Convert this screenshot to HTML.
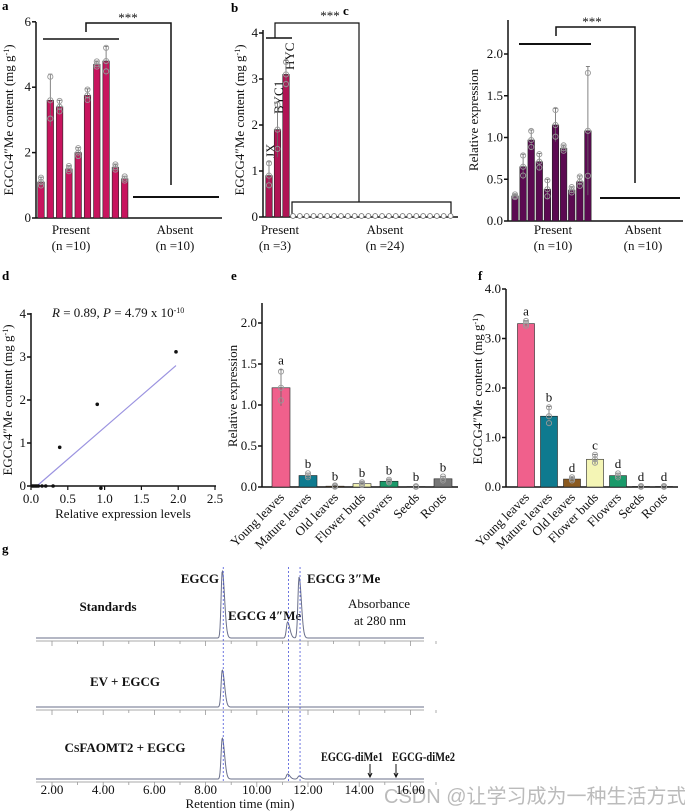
<!DOCTYPE html>
<html><head><meta charset="utf-8"><style>
html,body{margin:0;padding:0;background:#fff;}
svg{display:block;font-family:"Liberation Serif","Noto Serif CJK SC",serif;}
.t{font-size:13px;fill:#111;}
.pl{font-size:13px;font-weight:bold;fill:#000;}
.b{font-weight:bold;}
</style></head><body>
<svg id="fig" width="685" height="812" viewBox="0 0 685 812" xmlns="http://www.w3.org/2000/svg">
<text class="pl" x="2" y="10">a</text>
<text class="pl" x="231" y="12">b</text>
<text class="pl" x="343" y="15">c</text>
<text class="pl" x="2" y="280">d</text>
<text class="pl" x="231" y="280">e</text>
<text class="pl" x="478" y="280">f</text>
<text class="pl" x="2" y="553">g</text>

<g stroke="#111" fill="none">
<line x1="43" y1="39" x2="119" y2="39" stroke-width="1.5"/>
<polyline points="86,32 86,23 171,23 171,185" stroke-width="1.5"/>
<line x1="133" y1="197" x2="219" y2="197" stroke-width="2"/>
</g>
<text class="t" x="128" y="22" text-anchor="middle">***</text>
<text class="t" x="71" y="234" text-anchor="middle">Present</text>
<text class="t" x="71" y="250" text-anchor="middle">(n =10)</text>
<text class="t" x="175" y="234" text-anchor="middle">Absent</text>
<text class="t" x="175" y="250" text-anchor="middle">(n =10)</text>
<text class="t" transform="translate(13,120) rotate(-90)" text-anchor="middle">EGCG4″Me content (mg g<tspan dy="-4" font-size="8">-1</tspan><tspan dy="4">)</tspan></text>

<g stroke="#111" fill="none">
<line x1="266" y1="38" x2="292" y2="38" stroke-width="1.5"/>
<polyline points="275,38 275,23 359,23 359,202" stroke-width="1.2"/>
<polyline points="292,214 292,202 451,202 451,214" stroke-width="1.2"/>
</g>
<text class="t" x="330" y="20" text-anchor="middle">***</text>
<text class="t" transform="translate(275,158) rotate(-90)" font-size="12">JX</text>
<text class="t" transform="translate(283,114) rotate(-90)" font-size="12">BYC1</text>
<text class="t" transform="translate(294,70) rotate(-90)" font-size="12">HYC</text>
<text class="t" x="280" y="234" text-anchor="middle">Present</text>
<text class="t" x="275" y="250" text-anchor="middle">(n =3)</text>
<text class="t" x="385" y="234" text-anchor="middle">Absent</text>
<text class="t" x="385" y="250" text-anchor="middle">(n =24)</text>
<text class="t" transform="translate(244,120) rotate(-90)" text-anchor="middle">EGCG4″Me content (mg g<tspan dy="-4" font-size="8">-1</tspan><tspan dy="4">)</tspan></text>

<g stroke="#111" fill="none">
<line x1="519" y1="44" x2="591" y2="44" stroke-width="2"/>
<polyline points="556,36 556,27 635,27 635,183" stroke-width="1.5"/>
<line x1="600" y1="198" x2="680" y2="198" stroke-width="2"/>
</g>
<text class="t" x="592" y="26" text-anchor="middle">***</text>
<text class="t" x="553" y="234" text-anchor="middle">Present</text>
<text class="t" x="553" y="250" text-anchor="middle">(n =10)</text>
<text class="t" x="643" y="234" text-anchor="middle">Absent</text>
<text class="t" x="643" y="250" text-anchor="middle">(n =10)</text>
<text class="t" transform="translate(478,120) rotate(-90)" text-anchor="middle">Relative expression</text>

<text class="t" x="52" y="317"><tspan font-style="italic">R</tspan> = 0.89, <tspan font-style="italic">P</tspan> = 4.79 x 10<tspan dy="-4" font-size="8">-10</tspan></text>
<text class="t" x="123" y="518" text-anchor="middle">Relative expression levels</text>
<text class="t" transform="translate(12,400) rotate(-90)" text-anchor="middle">EGCG4″Me content (mg g<tspan dy="-4" font-size="8">-1</tspan><tspan dy="4">)</tspan></text>

<text class="t" transform="translate(237,396) rotate(-90)" text-anchor="middle">Relative expression</text>
<text class="t" transform="translate(482,389) rotate(-90)" text-anchor="middle">EGCG4″Me content (mg g<tspan dy="-4" font-size="8">-1</tspan><tspan dy="4">)</tspan></text>

<text class="t b" x="108" y="611" text-anchor="middle" font-size="14">Standards</text>
<text class="t b" x="125" y="686" text-anchor="middle" font-size="14">EV + EGCG</text>
<text class="t b" x="125" y="752" text-anchor="middle" font-size="14">C<tspan font-size="10">S</tspan>FAOMT2 + EGCG</text>
<text class="t b" x="219" y="583" text-anchor="end" font-size="10.5">EGCG</text>
<text class="t b" x="228" y="620" font-size="10.5">EGCG 4″Me</text>
<text class="t b" x="307" y="583" font-size="10.5">EGCG 3″Me</text>
<text class="t" x="379" y="608" text-anchor="middle" font-size="13">Absorbance</text>
<text class="t" x="380" y="625" text-anchor="middle" font-size="13">at 280 nm</text>
<text class="t b" x="321" y="761" font-size="9.5" textLength="62" lengthAdjust="spacingAndGlyphs">EGCG-diMe1</text>
<text class="t b" x="392" y="761" font-size="9.5" textLength="63" lengthAdjust="spacingAndGlyphs">EGCG-diMe2</text>
<g stroke="#111">
<line x1="370" y1="764" x2="370" y2="777"/><polyline points="368,773 370,777 372,773" fill="none"/>
<line x1="396" y1="764" x2="396" y2="777"/><polyline points="394,773 396,777 398,773" fill="none"/>
</g>
<text class="t" x="240" y="808" text-anchor="middle" font-size="13">Retention time (min)</text>
<text x="384" y="803" font-size="20" fill="#bbb" font-family="Liberation Sans, Noto Sans CJK SC, sans-serif">CSDN @让学习成为一种生活方式</text>
</svg>
<script>
// ---------- data ----------
const aValues=[1.1,3.6,3.4,1.5,2.0,3.75,4.7,4.8,1.55,1.2];
const aErrors=[0.15,0.8,0.2,0.1,0.15,0.2,0.1,0.45,0.1,0.08];
const aTicks=[0,2,4,6];
const bValues=[0.9,1.9,3.1];
const bErrors=[0.3,0.6,0.3];
const bZeros=[0,0,0,0,0,0,0,0,0,0,0,0,0,0,0,0,0,0,0,0,0,0,0,0];
const bTicks=[0,1,2,3,4];
const cValues=[0.3,0.65,0.97,0.71,0.38,1.15,0.87,0.37,0.47,1.08];
const cErrors=[0.02,0.15,0.12,0.1,0.12,0.2,0.04,0.04,0.07,0.77];
const cTicks=[0,0.5,1.0,1.5,2.0];
const dX=[0.39,0.9,1.97,0.02,0.04,0.06,0.08,0.1,0.15,0.2,0.3,0.95];
const dY=[0.9,1.9,3.12,0,0,0,0,0,0,0,0,-0.05];
const dFitX=[0.08,1.97];
const dFitY=[0,2.8];
const dXTicks=[0,0.5,1.0,1.5,2.0,2.5];
const dYTicks=[0,1,2,3,4];
const tissues=['Young leaves','Mature leaves','Old leaves','Flower buds','Flowers','Seeds','Roots'];
const eValues=[1.21,0.14,0.01,0.04,0.07,0.005,0.1];
const eErrors=[0.22,0.03,0.01,0.02,0.02,0.005,0.03];
const eLetters=['a','b','b','b','b','b','b'];
const eTicks=[0,0.5,1.0,1.5,2.0];
const fValues=[3.3,1.43,0.16,0.56,0.23,0.01,0.01];
const fErrors=[0.06,0.2,0.04,0.1,0.05,0.01,0.01];
const fLetters=['a','b','d','c','d','d','d'];
const fTicks=[0,1.0,2.0,3.0,4.0];
const tissueColors=['#f0608c','#0e7a8f','#8b5a20','#f4f5b5','#1a9a6a','#8a8a8a','#777777'];
const gTicks=[2,4,6,8,10,12,14,16];
const peakTimes=[8.65,11.2,11.65];
const stdHeights=[67,16,61];
const evHeights=[37,0,0];
const csHeights=[41,5,3];

// ---------- helpers ----------
const NS='http://www.w3.org/2000/svg';
const svg=document.getElementById('fig');
function mk(tag,parent){const e=document.createElementNS(NS,tag);parent.appendChild(e);return e;}
function set(e,o){for(const k in o)e.setAttribute(k,o[k]);return e;}
function fmt(v,d){return d?v.toFixed(1):String(v);}

function axes(g,name,ax,y0,yTop,xEnd,unit,ticks,dec){
  const l=mk('line',g);set(l,{x1:ax,y1:y0,x2:ax,y2:yTop,stroke:'#111','stroke-width':1.5});
  
  
  const xl=mk('line',g);set(xl,{x1:ax,y1:y0,x2:xEnd,y2:y0,stroke:'#111','stroke-width':1.5});
  
  
  ticks.forEach(t=>{
    const y=y0-t*unit;
    const tk=mk('line',g);set(tk,{x1:ax-4,y1:y,x2:ax,y2:y,stroke:'#111','stroke-width':1.5});
    
    
    const tx=mk('text',g);set(tx,{x:ax-5,y:y+4,'text-anchor':'end',class:'t'});
    tx.textContent=fmt(t,dec);
    
    
  });
}
function bars(g,name,y0,unit,c0,pitch,w,vals,errs,colors){
  vals.forEach((v,i)=>{
    const cx=c0+i*pitch,h=v*unit;
    const col=Array.isArray(colors)?colors[i]:colors;
    const r=mk('rect',g);set(r,{x:cx-w/2,y:y0-h,width:w,height:Math.max(h,0.5),fill:col,stroke:'#222','stroke-width':0.6});
    
    
    const top=y0-(v+errs[i])*unit,bot=y0-Math.max(v-errs[i],0)*unit;
    const e=mk('line',g);set(e,{x1:cx,y1:top,x2:cx,y2:bot,stroke:'#666','stroke-width':0.8});
    
    
    const cap=mk('line',g);set(cap,{x1:cx-2,y1:top,x2:cx+2,y2:top,stroke:'#666','stroke-width':0.8});
    
    
    [v+errs[i]*0.9,v,Math.max(v-errs[i]*0.7,0)].forEach(dv=>{
      const d=mk('circle',g);set(d,{cx:cx,cy:y0-dv*unit,r:2.6,fill:'none',stroke:'#999','stroke-width':0.9});
      
      
    });
  });
}

// ---------- panel a ----------
const ga=mk('g',svg);
axes(ga,'panel-a',36,218,22,222,32.7,aTicks,false);
bars(ga,'panel-a',218,32.7,41,9.3,6.5,aValues,aErrors,'#c8145e');

// ---------- panel b ----------
const gb=mk('g',svg);
axes(gb,'panel-b',263,217,30,458,46,bTicks,false);
bars(gb,'panel-b',217,46,269,8.5,6.5,bValues,bErrors,'#b01454');
bZeros.forEach((v,i)=>{
  const c=mk('circle',gb);set(c,{cx:293+i*6.85,cy:216-v*46,r:2.4,fill:'#fff',stroke:'#777','stroke-width':0.9});
  
  
});

// ---------- panel c ----------
const gc=mk('g',svg);
axes(gc,'panel-c',508,221,20,683,83.5,cTicks,true);
bars(gc,'panel-c',221,83.5,515,8.1,6.5,cValues,cErrors,'#5c0a52');

// ---------- panel d ----------
const gd=mk('g',svg);
const dx=v=>31+v*73.6, dy=v=>486-v*43;
axes(gd,'panel-d',31,486,313,216,43,dYTicks,false);
dXTicks.forEach(t=>{
  const tk=mk('line',gd);set(tk,{x1:dx(t),y1:486,x2:dx(t),y2:490,stroke:'#111','stroke-width':1.2});
  
  
  const tx=mk('text',gd);set(tx,{x:dx(t),y:503,'text-anchor':'middle',class:'t'});
  tx.textContent=t.toFixed(1);
  
  
});
const fit=mk('line',gd);set(fit,{x1:dx(dFitX[0]),y1:dy(dFitY[0]),x2:dx(dFitX[1]),y2:dy(dFitY[1]),stroke:'#9b93e0','stroke-width':1.2});


dX.forEach((x,i)=>{
  const p=mk('circle',gd);set(p,{cx:dx(x),cy:dy(dY[i]),r:1.8,fill:'#111'});
  
  
});

// ---------- panels e, f ----------
function tissuePanel(name,ax,y0,yTop,xEnd,unit,ticks,c0,pitch,w,vals,errs,letters){
  const g=mk('g',svg);
  axes(g,name,ax,y0,yTop,xEnd,unit,ticks,true);
  bars(g,name,y0,unit,c0,pitch,w,vals,errs,tissueColors);
  vals.forEach((v,i)=>{
    const cx=c0+i*pitch;
    const lt=mk('text',g);set(lt,{x:cx,y:y0-(v+errs[i])*unit-5,'text-anchor':'middle',class:'t'});
    lt.textContent=letters[i];
    
    
    const cl=mk('text',g);set(cl,{transform:'translate('+(cx+4)+','+(y0+11)+') rotate(-45)','text-anchor':'end',class:'t'});
    cl.textContent=tissues[i];
    
    
  });
}
tissuePanel('panel-e',262,487,303,458,82,eTicks,281,27,18,eValues,eErrors,eLetters);
tissuePanel('panel-f',506,487,289,678,49.5,fTicks,526,23,17,fValues,fErrors,fLetters);

// ---------- panel g ----------
const gg=mk('g',svg);
const gx=t=>52+(t-2)*25.6;
function trace(name,base,heights){
  let d='';
  for(let px=36;px<=424;px+=0.5){
    const t=2+(px-52)/25.6;let y=0;
    peakTimes.forEach((pt,i)=>{const dt=t-pt;const s=dt<0?0.045:0.09;y+=heights[i]*Math.exp(-dt*dt/(2*s*s));});
    d+=(d?'L':'M')+px+','+(base-y).toFixed(2);
  }
  const p=mk('path',gg);set(p,{d:d,fill:'none',stroke:'#6a6f8a','stroke-width':1});
  
  
  const bl=mk('line',gg);set(bl,{x1:36,y1:base+3,x2:424,y2:base+3,stroke:'#aaa','stroke-width':1});
  
  
  gTicks.forEach(t=>{
    [0,1].forEach(k=>{
      const x=gx(t+k);
      const tk=mk('line',gg);set(tk,{x1:x,y1:base+3,x2:x,y2:base+(k?6:8),stroke:'#999','stroke-width':0.8});
      
      
    });
  });
}
trace('trace-standards',638,stdHeights);
trace('trace-ev-egcg',707,evHeights);
trace('trace-csfaomt2-egcg',779,csHeights);
gTicks.forEach(t=>{
  const tx=mk('text',gg);set(tx,{x:gx(t),y:794,'text-anchor':'middle',class:'t'});
  tx.textContent=t.toFixed(2);
  
  
});
peakTimes.forEach(t=>{
  const l=mk('line',gg);set(l,{x1:gx(t)+1,y1:567,x2:gx(t)+1,y2:782,stroke:'#4a55d8','stroke-width':0.8,'stroke-dasharray':'2,2'});
  
  
});
</script>
</body></html>
